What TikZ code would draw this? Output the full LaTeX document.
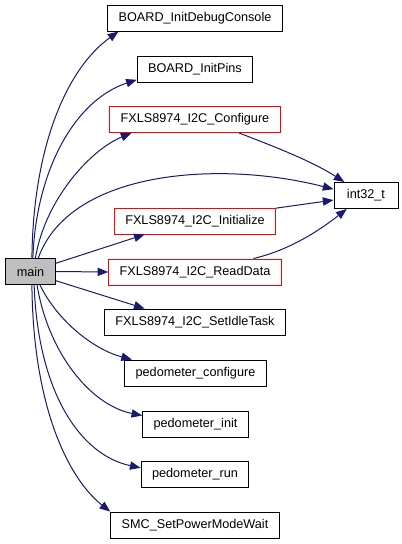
\documentclass[tikz,border=0pt]{standalone}
\usepackage{fontspec}
\setmainfont{Liberation Sans}
\usetikzlibrary{arrows.meta}
\definecolor{Canvas}{HTML}{FFFFFF}
\definecolor{Edge}{HTML}{191970}
\definecolor{Frame}{HTML}{000000}
\definecolor{Hot}{HTML}{FF0000}
\definecolor{Root}{HTML}{BFBFBF}

\begin{document}
\begin{tikzpicture}[
  x=0.75pt, y=-0.75pt,
  font=\fontsize{9.5pt}{11pt}\selectfont,
  fn/.style={
    draw=Frame,
    line width=0.75pt,
    fill=Canvas,
    inner xsep=8.2pt,
    inner ysep=0pt,
    minimum height=19.5pt
  },
  fnred/.style={
    fn,
    draw=Hot
  },
  fnmain/.style={
    fn,
    fill=Root
  },
  call/.style={
    -{Triangle[length=8pt,width=6.2pt]},
    line width=0.75pt,
    draw=Edge,
    fill=none
  }
]

\fill[Canvas] (0,0) rectangle (401,544);
\useasboundingbox (0,0) rectangle (401,544);

\node[fnmain] (main) at (30.5,271.5) {main};

\node[fn] (dbg) at (195,18) {BOARD\_InitDebugConsole};
\node[fn] (pins) at (195,69.5) {BOARD\_InitPins};
\node[fnred] (cfg) at (195,119.5) {FXLS8974\_I2C\_Configure};
\node[fn, minimum width=48pt] (int) at (366,195.5) {int32\_t};
\node[fnred] (init) at (195,221) {FXLS8974\_I2C\_Initialize};
\node[fnred] (read) at (195,272) {FXLS8974\_I2C\_ReadData};
\node[fn] (idle) at (195,322) {FXLS8974\_I2C\_SetIdleTask};
\node[fn] (pcfg) at (195.5,373) {pedometer\_configure};
\node[fn] (pinit) at (195.5,424) {pedometer\_init};
\node[fn] (prun) at (195,474.5) {pedometer\_run};
\node[fn] (smc) at (195,525) {SMC\_SetPowerModeWait};

% calls out of main
\draw[call] (main.84) .. controls (33,150) and (65,70) .. (dbg.190);
\draw[call] (main.80) .. controls (36,170) and (75,100) .. (pins.190);
\draw[call] (main.70) .. controls (45,200) and (90,150) .. (cfg.192);
\draw[call] (main.60) .. controls (70,170) and (220,160) .. (int.169);
\draw[call] (main.18) -- (init.195);
\draw[call] (main.east) -- (read.west);
\draw[call] (main.340) -- (idle.165);
\draw[call] (main.305) .. controls (58,322) and (95,350) .. (pcfg.168);
\draw[call] (main.296) .. controls (48,352) and (90,405) .. (pinit.171);
\draw[call] (main.285) .. controls (38,392) and (80,455) .. (prun.173);
\draw[call] (main.276) .. controls (33,410) and (70,480) .. (smc.171);

% calls into int32_t
\draw[call] (cfg.343) .. controls (270,145) and (310,160) .. (int.148);
\draw[call] (init.9) -- (int.188);
\draw[call] (read.13) .. controls (290,250) and (320,230) .. (int.215);

\end{tikzpicture}
\end{document}
